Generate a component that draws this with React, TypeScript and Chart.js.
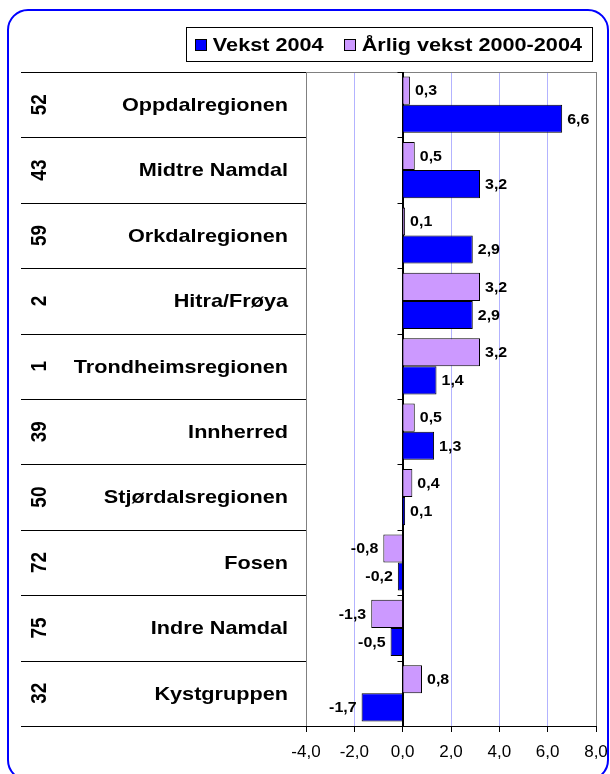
import React, { useEffect, useRef } from "react";
import { Chart, registerables } from "chart.js";

Chart.register(...registerables);

const regions = [
  "Oppdalregionen",
  "Midtre Namdal",
  "Orkdalregionen",
  "Hitra/Frøya",
  "Trondheimsregionen",
  "Innherred",
  "Stjørdalsregionen",
  "Fosen",
  "Indre Namdal",
  "Kystgruppen",
];
const ranks = ["52", "43", "59", "2", "1", "39", "50", "72", "75", "32"];
const annualGrowth = [0.3, 0.5, 0.1, 3.2, 3.2, 0.5, 0.4, -0.8, -1.3, 0.8];
const growth2004 = [6.6, 3.2, 2.9, 2.9, 1.4, 1.3, 0.1, -0.2, -0.5, -1.7];
const seriesNames = ["Årlig vekst 2000-2004", "Vekst 2004"];
const seriesColors = ["#cc99ff", "#0000ff"];
const xMin = -4;
const xMax = 8;
const xStep = 2;

const FONT = '"Liberation Sans", Arial, Helvetica, sans-serif';
const SX = 1.14;

const fmt = (v: number) => v.toFixed(1).replace(".", ",");

function stretchedText(
  ctx: CanvasRenderingContext2D,
  text: string,
  x: number,
  y: number,
  align: CanvasTextAlign,
  font: string,
  rotate = false
) {
  ctx.save();
  ctx.font = font;
  ctx.fillStyle = "#000";
  ctx.textAlign = align;
  ctx.textBaseline = "middle";
  ctx.translate(x, y);
  ctx.scale(SX, 1);
  if (rotate) ctx.rotate(-Math.PI / 2);
  ctx.fillText(text, 0, 0);
  ctx.restore();
}

const decorPlugin = {
  id: "decor",
  beforeDraw(chart: any) {
    const ctx = chart.ctx as CanvasRenderingContext2D;
    ctx.save();
    ctx.fillStyle = "#fff";
    ctx.fillRect(0, 0, chart.width, chart.height);
    ctx.strokeStyle = "#0000ff";
    ctx.lineWidth = 2;
    const bx = 8, by = 10, bw = 600, bh = 770, r = 20;
    ctx.beginPath();
    ctx.moveTo(bx + r, by);
    ctx.lineTo(bx + bw - r, by);
    ctx.arcTo(bx + bw, by, bx + bw, by + r, r);
    ctx.lineTo(bx + bw, by + bh - r);
    ctx.arcTo(bx + bw, by + bh, bx + bw - r, by + bh, r);
    ctx.lineTo(bx + r, by + bh);
    ctx.arcTo(bx, by + bh, bx, by + bh - r, r);
    ctx.lineTo(bx, by + r);
    ctx.arcTo(bx, by, bx + r, by, r);
    ctx.closePath();
    ctx.stroke();
    ctx.restore();
  },
  beforeDatasetsDraw(chart: any) {
    const ctx = chart.ctx as CanvasRenderingContext2D;
    const { left, right, top, bottom } = chart.chartArea;
    const xs = chart.scales.x;
    const n = chart.data.labels.length;
    const h = (bottom - top) / n;
    ctx.save();
    ctx.strokeStyle = "#808080";
    ctx.lineWidth = 1;
    ctx.beginPath();
    ctx.moveTo(left, Math.round(top) + 0.5);
    ctx.lineTo(right, Math.round(top) + 0.5);
    ctx.stroke();
    const x0 = Math.round(xs.getPixelForValue(0)) + 0.5;
    ctx.strokeStyle = "#000";
    for (let k = 0; k <= n; k++) {
      const y = Math.round(top + k * h) + 0.5;
      ctx.beginPath();
      ctx.moveTo(21, y);
      ctx.lineTo(left, y);
      ctx.moveTo(x0 - 6, y);
      ctx.lineTo(x0, y);
      ctx.stroke();
    }
    ctx.beginPath();
    ctx.moveTo(x0, top);
    ctx.lineTo(x0, bottom);
    ctx.stroke();
    ctx.restore();
  },
  afterDraw(chart: any) {
    const ctx = chart.ctx as CanvasRenderingContext2D;
    const ys = chart.scales.y;
    const labels = chart.data.labels as string[];
    labels.forEach((name, i) => {
      const y = ys.getPixelForTick(i);
      stretchedText(ctx, name, 288, y + 1, "right", `bold 19px ${FONT}`);
      stretchedText(ctx, ranks[i], 40, y, "center", `bold 19px ${FONT}`, true);
    });
    chart.data.datasets.forEach((ds: any, di: number) => {
      const meta = chart.getDatasetMeta(di);
      meta.data.forEach((bar: any, j: number) => {
        const v = ds.data[j] as number;
        const pos = v >= 0;
        stretchedText(
          ctx,
          fmt(v),
          pos ? bar.x + 5 : bar.x - 5,
          bar.y + 1,
          pos ? "left" : "right",
          `bold 14px ${FONT}`
        );
      });
    });
    const order = [1, 0];
    const lfont = `bold 19px ${FONT}`;
    ctx.save();
    ctx.font = lfont;
    const sq = 12, gapSqText = 6, gapItems = 20, padL = 9, padR = 10;
    const widths = order.map((i) => ctx.measureText(chart.data.datasets[i].label).width * SX);
    const total = padL + order.reduce((s, _i, k) => s + sq + gapSqText + widths[k], 0) + gapItems * (order.length - 1) + padR;
    const boxRight = 592, boxTop = 27, boxH = 34;
    const boxLeft = boxRight - total;
    ctx.fillStyle = "#fff";
    ctx.fillRect(boxLeft, boxTop, total, boxH);
    ctx.strokeStyle = "#000";
    ctx.lineWidth = 1;
    ctx.strokeRect(Math.round(boxLeft) + 0.5, boxTop + 0.5, Math.round(total), boxH);
    let x = boxLeft + padL;
    const cy = boxTop + boxH / 2 + 0.5;
    order.forEach((i, k) => {
      const ds = chart.data.datasets[i];
      ctx.fillStyle = ds.backgroundColor;
      ctx.fillRect(Math.round(x), Math.round(cy - sq / 2), sq, sq);
      ctx.strokeStyle = "#000";
      ctx.strokeRect(Math.round(x) + 0.5, Math.round(cy - sq / 2) + 0.5, sq - 1, sq - 1);
      x += sq + gapSqText;
      stretchedText(ctx, ds.label, x, cy + 1, "left", lfont);
      x += widths[k] + gapItems;
    });
    ctx.restore();
  },
};

export default function App() {
  const ref = useRef<HTMLCanvasElement | null>(null);
  useEffect(() => {
    if (!ref.current) return;
    const chart = new Chart(ref.current, {
      type: "bar",
      data: {
        labels: regions,
        datasets: [
          {
            label: seriesNames[0],
            data: annualGrowth,
            backgroundColor: seriesColors[0],
            borderColor: "#000",
            borderWidth: 1,
            barPercentage: 1,
            categoryPercentage: 0.86,
          },
          {
            label: seriesNames[1],
            data: growth2004,
            backgroundColor: seriesColors[1],
            borderColor: "#000",
            borderWidth: 1,
            barPercentage: 1,
            categoryPercentage: 0.86,
          },
        ],
      },
      options: {
        indexAxis: "y",
        animation: false,
        responsive: false,
        maintainAspectRatio: false,
        layout: { padding: { top: 72, right: 14, left: 0, bottom: 0 } },
        plugins: { legend: { display: false }, tooltip: { enabled: false } },
        scales: {
          x: {
            type: "linear",
            min: xMin,
            max: xMax,
            ticks: {
              stepSize: xStep,
              callback: (v: any) => fmt(Number(v)),
              color: "#000",
              font: { family: FONT, size: 17 },
              padding: 10,
              maxRotation: 0,
            },
            grid: {
              color: (c: any) => {
                const v = c.tick ? c.tick.value : null;
                if (v === xMin || v === xMax) return "#808080";
                if (v === 0) return "#000";
                return "#b3b3ff";
              },
              tickColor: "#000",
              tickLength: 6,
            },
            border: { display: true, color: "#000", width: 1 },
            afterFit: (s: any) => {
              s.height = 48;
              s.paddingLeft = 0;
              s.paddingRight = 0;
            },
          },
          y: {
            type: "category",
            ticks: { display: false },
            grid: { display: false },
            border: { display: false },
            afterFit: (s: any) => {
              s.width = 306;
              s.paddingTop = 0;
              s.paddingBottom = 0;
            },
          },
        },
      },
      plugins: [decorPlugin],
    } as any);
    return () => chart.destroy();
  }, []);
  return (
    <div style={{ position: "fixed", left: 0, top: 0, width: 610, height: 774, background: "#fff" }}>
      <canvas ref={ref} width={610} height={774} style={{ display: "block" }} />
    </div>
  );
}
